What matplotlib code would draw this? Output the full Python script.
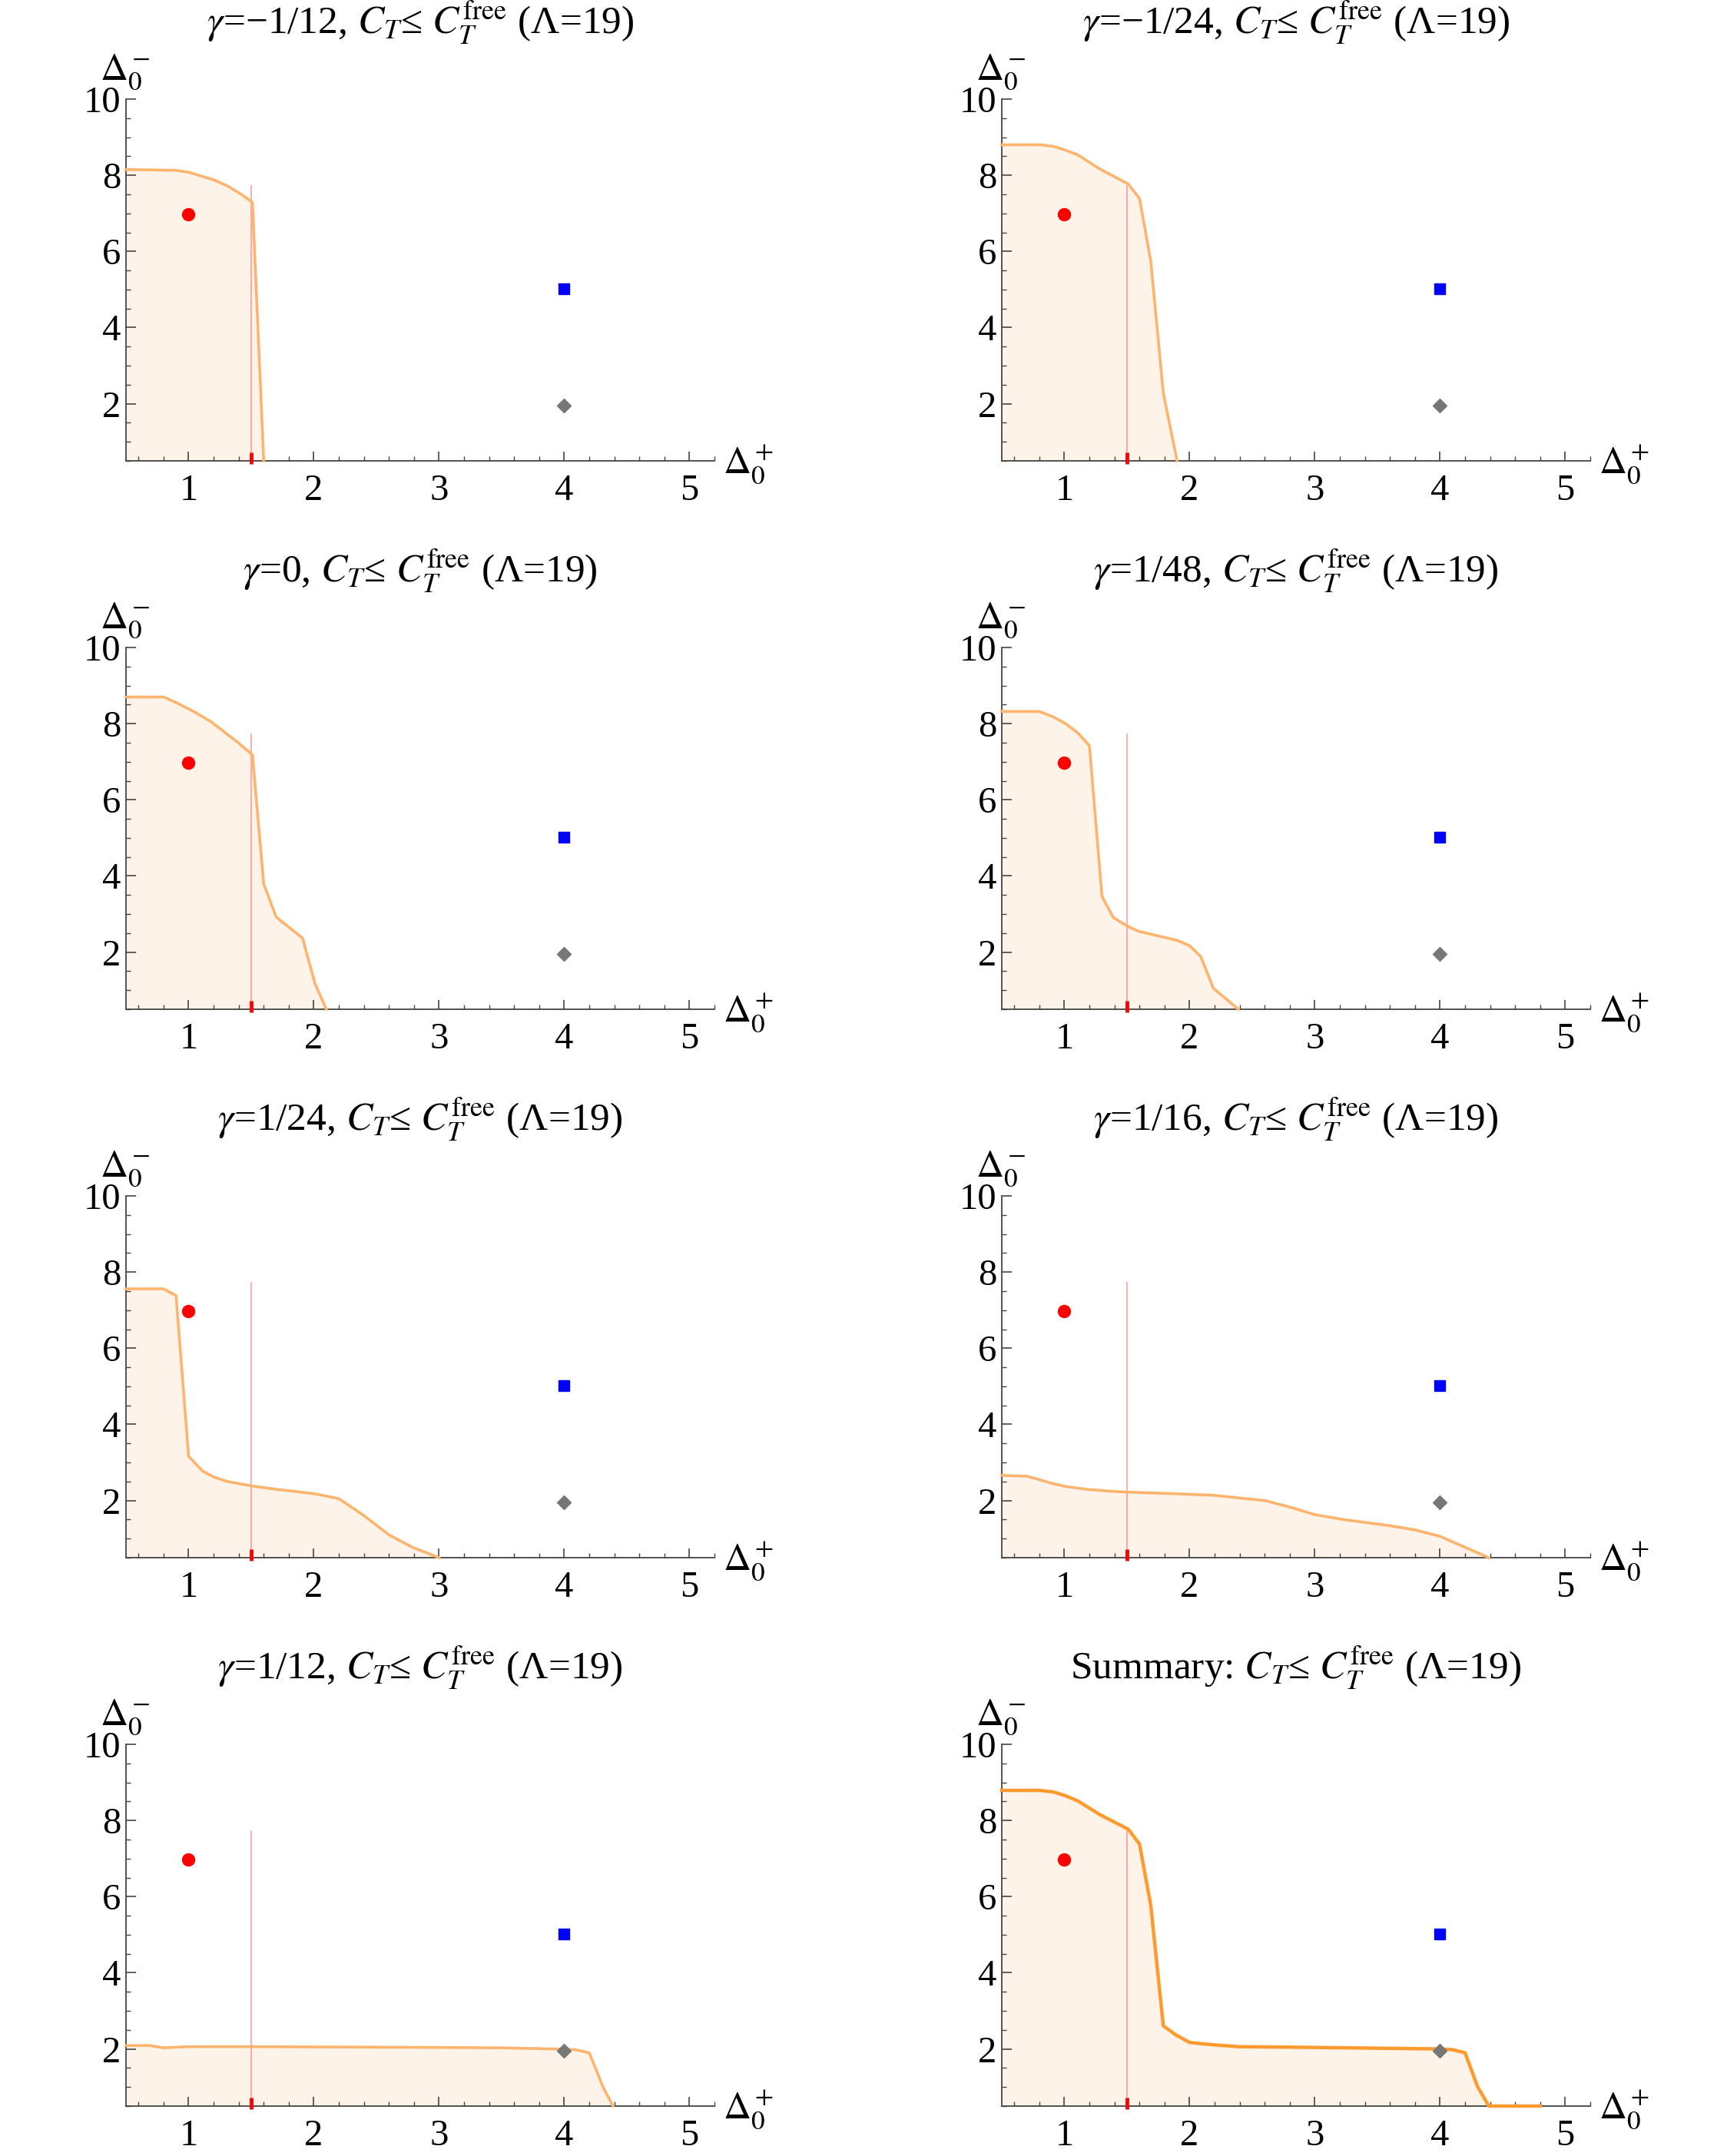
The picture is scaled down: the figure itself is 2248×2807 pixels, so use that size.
import matplotlib
matplotlib.use('Agg')
import matplotlib.pyplot as plt
from matplotlib.ticker import MultipleLocator

plt.rcParams.update({
    'font.family': ['Liberation Serif', 'DejaVu Serif'],
    'mathtext.fontset': 'stix',
    'font.size': 36,
    'xtick.labelsize': 35,
    'ytick.labelsize': 35,
    'axes.linewidth': 1.3,
    'axes.edgecolor': '#444444',
    'xtick.color': '#444444',
    'ytick.color': '#444444',
    'xtick.labelcolor': 'black',
    'ytick.labelcolor': 'black',
})

# bound curves (Delta_0^+, Delta_0^-)
g_m1_12_x = [0.5, 0.89, 1.0, 1.09, 1.2, 1.31, 1.42, 1.51, 1.6]
g_m1_12_y = [8.15, 8.13, 8.08, 7.99, 7.88, 7.72, 7.5, 7.29, 0.5]

g_m1_24_x = [0.5, 0.80, 0.91, 1.0, 1.11, 1.28, 1.51, 1.6, 1.69, 1.79, 1.9]
g_m1_24_y = [8.80, 8.80, 8.76, 8.67, 8.53, 8.17, 7.77, 7.39, 5.74, 2.28, 0.5]

g_0_x = [0.5, 0.80, 0.91, 1.04, 1.18, 1.40, 1.51, 1.6, 1.70, 1.91, 2.01, 2.10]
g_0_y = [8.70, 8.70, 8.54, 8.32, 8.05, 7.49, 7.18, 3.79, 2.92, 2.37, 1.17, 0.5]

g_1_48_x = [0.5, 0.80, 0.91, 1.01, 1.11, 1.2, 1.3, 1.39, 1.5, 1.59, 1.90, 2.0, 2.09, 2.19, 2.39]
g_1_48_y = [8.32, 8.32, 8.18, 8.0, 7.75, 7.42, 3.47, 2.91, 2.69, 2.55, 2.31, 2.17, 1.88, 1.05, 0.5]

g_1_24_x = [0.5, 0.80, 0.90, 1.0, 1.11, 1.2, 1.31, 1.51, 1.71, 1.88, 2.02, 2.20, 2.39, 2.60, 2.79, 3.0]
g_1_24_y = [7.56, 7.56, 7.38, 3.16, 2.78, 2.62, 2.50, 2.38, 2.29, 2.23, 2.17, 2.05, 1.63, 1.10, 0.77, 0.5]

g_1_16_x = [0.5, 0.70, 0.80, 0.89, 1.01, 1.19, 1.39, 1.51, 1.79, 2.19, 2.39, 2.60, 2.81, 3.0, 3.23,
            3.60, 3.80, 4.0, 4.39]
g_1_16_y = [2.66, 2.64, 2.55, 2.46, 2.37, 2.29, 2.24, 2.22, 2.19, 2.14, 2.07, 2.0, 1.82, 1.63, 1.50,
            1.34, 1.23, 1.06, 0.5]

g_1_12_x = [0.5, 0.69, 0.80, 1.0, 1.51, 2.99, 3.48, 3.92, 4.09, 4.20, 4.31, 4.39]
g_1_12_y = [2.09, 2.09, 2.03, 2.06, 2.06, 2.04, 2.03, 2.0, 1.98, 1.90, 1.0, 0.5]

summary_x = [0.5, 0.80, 0.91, 1.0, 1.11, 1.28, 1.51, 1.6, 1.69, 1.79, 1.89, 2.0, 2.09, 2.19, 2.39,
             3.0, 4.0, 4.10, 4.20, 4.30, 4.39, 4.80]
summary_y = [8.79, 8.79, 8.75, 8.66, 8.51, 8.16, 7.77, 7.38, 5.77, 2.61, 2.37, 2.17, 2.14, 2.11, 2.06,
             2.04, 2.0, 1.98, 1.90, 1.01, 0.5, 0.5]

titles = [
    r'$\gamma$=−1/12, $C_T$≤ $C_T^{\rm free}$ (Λ=19)',
    r'$\gamma$=−1/24, $C_T$≤ $C_T^{\rm free}$ (Λ=19)',
    r'$\gamma$=0, $C_T$≤ $C_T^{\rm free}$ (Λ=19)',
    r'$\gamma$=1/48, $C_T$≤ $C_T^{\rm free}$ (Λ=19)',
    r'$\gamma$=1/24, $C_T$≤ $C_T^{\rm free}$ (Λ=19)',
    r'$\gamma$=1/16, $C_T$≤ $C_T^{\rm free}$ (Λ=19)',
    r'$\gamma$=1/12, $C_T$≤ $C_T^{\rm free}$ (Λ=19)',
    r'Summary: $C_T$≤ $C_T^{\rm free}$ (Λ=19)',
]
curves = [(g_m1_12_x, g_m1_12_y), (g_m1_24_x, g_m1_24_y), (g_0_x, g_0_y), (g_1_48_x, g_1_48_y),
          (g_1_24_x, g_1_24_y), (g_1_16_x, g_1_16_y), (g_1_12_x, g_1_12_y), (summary_x, summary_y)]

# reference points
circle_pt = (1.0, 6.97)
square_pt = (4.0, 5.02)
diamond_pt = (4.0, 1.95)
unitarity_x = 1.5
unitarity_top = 7.72

FILL = '#FEF3E9'
LINE = '#FFB46E'
LINE_SUM = '#FF9A2E'

fig = plt.figure(figsize=(22.48, 28.07), dpi=100)
W, H = 2248.0, 2807.0
lefts = [164, 1304]
aw, ah = 766, 471
tops = [129, 843, 1557, 2271]

for i, (title, (cx, cy)) in enumerate(zip(titles, curves)):
    r, c = divmod(i, 2)
    ax = fig.add_axes([lefts[c] / W, 1 - (tops[r] + ah) / H, aw / W, ah / H])
    summ = (i == 7)
    ax.fill_between(cx, cy, 0.5, color=FILL, lw=0, zorder=1)
    ax.plot(cx, cy, color=LINE_SUM if summ else LINE, lw=3.2 if summ else 2.6,
            zorder=3, clip_on=False)
    ax.plot([unitarity_x, unitarity_x], [0.5, unitarity_top], color='#FF6060', lw=1.2,
            alpha=0.6, zorder=2)
    ax.plot([unitarity_x, unitarity_x], [0.42, 0.72], color='red', lw=3.5, zorder=4,
            clip_on=False, solid_capstyle='butt')
    ax.plot(*circle_pt, 'o', color='red', ms=11.5, zorder=5)
    ax.plot(*square_pt, 's', color='blue', ms=9.5, zorder=5)
    ax.plot(*diamond_pt, 'D', color='#777777', ms=9, zorder=5)

    ax.set_xlim(0.5, 5.2)
    ax.set_ylim(0.5, 10)
    for s in ['top', 'right']:
        ax.spines[s].set_visible(False)
    ax.set_xticks([1, 2, 3, 4, 5])
    ax.set_yticks([2, 4, 6, 8, 10])
    ax.xaxis.set_minor_locator(MultipleLocator(0.2))
    ax.yaxis.set_minor_locator(MultipleLocator(0.5))
    ax.tick_params(which='major', direction='in', length=9, width=1.2)
    ax.tick_params(which='minor', direction='in', length=4.5, width=1.0)
    ax.tick_params(axis='x', which='major', pad=12)
    ax.tick_params(axis='y', which='major', pad=5)

    ax.text(0.5, 1.212, title, transform=ax.transAxes, ha='center', va='center', fontsize=37)
    ax.text(-0.045, 1.022, r'$\Delta_0^-$', transform=ax.transAxes, ha='left', va='bottom')
    ax.text(1.015, -0.01, r'$\Delta_0^+$', transform=ax.transAxes, ha='left', va='center')

fig.savefig('out.png', dpi=100)
